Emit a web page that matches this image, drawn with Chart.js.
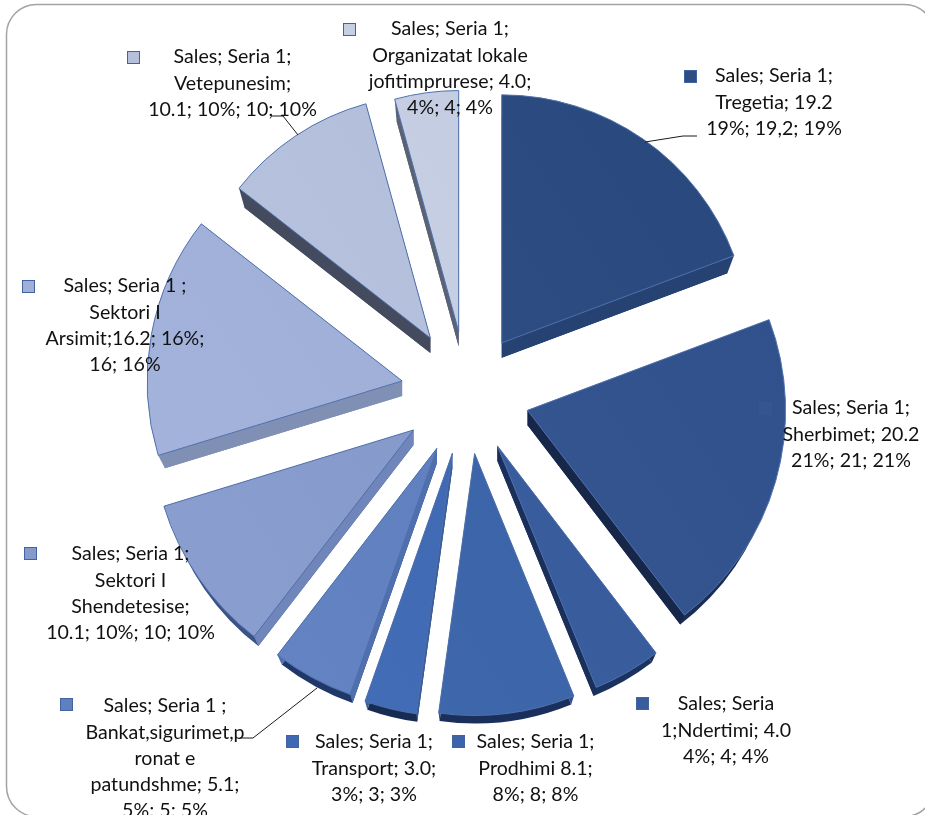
<!DOCTYPE html>
<html><head><meta charset="utf-8">
<style>html,body{margin:0;padding:0;background:#fff;overflow:hidden}canvas{display:block}</style>
<script src="https://cdn.jsdelivr.net/npm/chart.js@4"></script>
</head><body><canvas id="c" width="925" height="815"></canvas>
<script>
const categories=["Tregetia","Sherbimet","Ndertimi","Prodhimi","Transport","Bankat,sigurimet,pronat e patundshme","Sektori I Shendetesise","Sektori I Arsimit","Vetepunesim","Organizatat lokale jofitimprurese"];
const values=[19.2,20.2,4.0,8.1,3.0,5.1,10.1,16.2,10.1,4.0];
const labelLines=[
["Sales; Seria 1;","Tregetia; 19.2","19%; 19,2; 19%"],
["Sales; Seria 1;","Sherbimet; 20.2","21%; 21; 21%"],
["Sales; Seria","1;Ndertimi; 4.0","4%; 4; 4%"],
["Sales; Seria 1;","Prodhimi 8.1;","8%; 8; 8%"],
["Sales; Seria 1;","Transport; 3.0;","3%; 3; 3%"],
["Sales; Seria 1 ;","Bankat,sigurimet,p","ronat e","patundshme; 5.1;","5%; 5; 5%"],
["Sales; Seria 1;","Sektori I","Shendetesise;","10.1; 10%; 10; 10%"],
["Sales; Seria 1 ;","Sektori I","Arsimit;16.2; 16%;","16; 16%"],
["Sales; Seria 1;","Vetepunesim;","10.1; 10%; 10; 10%"],
["Sales; Seria 1;","Organizatat lokale","jofitimprurese; 4.0;","4%; 4; 4%"]];
const faceColors=["#2e4d83","#34558f","#395c9d","#3c64a8","#3f69b2","#5f7fbf","#8599ca","#a0afd8","#b5c0dc","#c6cfe3"];
const rimColors=["#264272","#1a2e54","#1a3260","#1a2f5c","#172c52","#1f3869","#3a5286","#8090b4","#454b5e","#5a6274"];
const sideColors=["#264272","#16274a","#1a2f5a","#2f5090","#3a5f9f","#4f6fae","#7086bb","#8090b4","#454b5e","#5a6274"];
const explode=[61,63,61,61,62,63,65,66,66,62];
const radii=[248,258,261,262,263,261,261,255,243,241];
// perspective foreshortening of the slice boundaries, degrees
const boundaryWarp=[0,.3,.7,1.5,2.5,3.2,3.1,2.1,-1.2,-1,0];
const labelX=[774,851,726,535.5,374,165,130.5,125,232.5,450];
const labelY=[76,408,704,742,742,706,554,286,57,29];
const keyX=[684,759,636,452,286,60,24,22,127,343];
const keyY=[70,402,697,735,735,698,547,280,51,23];
const leaders=[[[645,142],[683,136],[697,136]],[[298,135],[283,116],[272,116]],[[317,688],[253,738],[240,738]]];
const LINE=26.2, DEPTH=15, SHRINK=7, RAD=Math.PI/180;

const shade=(hex,d)=>{const n=parseInt(hex.slice(1),16);const f=s=>Math.max(0,Math.min(255,((n>>s)&255)+d));return `rgb(${f(16)},${f(8)},${f(0)})`;};
const geometry={id:'geometry',afterDatasetsUpdate(chart){
  chart.getDatasetMeta(0).data.forEach((a,i)=>{
    a.startAngle+=boundaryWarp[i]*RAD; a.endAngle+=boundaryWarp[i+1]*RAD;
    a.circumference=a.endAngle-a.startAngle;
    const mid=(a.startAngle+a.endAngle)/2;
    a.x+=Math.cos(mid)*explode[i]; a.y+=Math.sin(mid)*explode[i];
    a.outerRadius=radii[i];
  });
}};
const frame={id:'frame',beforeDraw(chart){
  const c=chart.ctx;c.save();c.strokeStyle='#a3a3a3';c.lineWidth=1.5;
  c.beginPath();c.roundRect(6.5,4.5,928,812,30);c.stroke();c.restore();
}};
const depth={id:'depth',beforeDatasetsDraw(chart){
  const c=chart.ctx;
  chart.getDatasetMeta(0).data.forEach((a,i)=>{
    const ax=a.x, ay=a.y, r=radii[i], rb=r-SHRINK, by=ay+DEPTH;
    c.save();
    c.fillStyle=rimColors[i];
    c.beginPath();c.moveTo(ax,by);c.arc(ax,by,rb,a.startAngle,a.endAngle);c.closePath();c.fill();
    c.fillStyle=sideColors[i];
    [a.startAngle,a.endAngle].forEach(t=>{
      c.beginPath();c.moveTo(ax,ay);
      c.lineTo(ax+Math.cos(t)*r,ay+Math.sin(t)*r);
      c.lineTo(ax+Math.cos(t)*rb,by+Math.sin(t)*rb);
      c.lineTo(ax,by);c.closePath();c.fill();
    });
    c.restore();
  });
}};
const labels={id:'labels',afterDatasetsDraw(chart){
  const c=chart.ctx;c.save();
  c.strokeStyle='#1a1a1a';c.lineWidth=1;
  leaders.forEach(l=>{c.beginPath();l.forEach((p,k)=>k?c.lineTo(p[0],p[1]):c.moveTo(p[0],p[1]));c.stroke();});
  c.font='19.6px Lato';c.fillStyle='#111';c.textAlign='center';c.textBaseline='middle';
  labelLines.forEach((ls,i)=>{
    ls.forEach((t,k)=>c.fillText(t,labelX[i],labelY[i]+k*LINE));
    c.fillStyle=faceColors[i];c.fillRect(keyX[i],keyY[i],12,12);
    c.strokeStyle=i===1?faceColors[i]:'#41639f';c.strokeRect(keyX[i]+.5,keyY[i]+.5,12,12);
    c.fillStyle='#111';
  });
  c.restore();
}};
new Chart(document.getElementById('c'),{
  type:'pie',
  data:{labels:categories,datasets:[{data:values,borderColor:'#4f71ad',borderWidth:1,
    backgroundColor:ctx=>{
      const i=ctx.dataIndex,g=ctx.chart.ctx.createLinearGradient(150,620,780,200);
      g.addColorStop(0,shade(faceColors[i],5));g.addColorStop(1,shade(faceColors[i],-5));return g;}
  }]},
  options:{responsive:false,animation:false,rotation:0,
    layout:{padding:{left:9,right:0,top:0,bottom:29}},
    plugins:{legend:{display:false},tooltip:{enabled:false},title:{display:false}}},
  plugins:[geometry,frame,depth,labels]
});
</script></body></html>
